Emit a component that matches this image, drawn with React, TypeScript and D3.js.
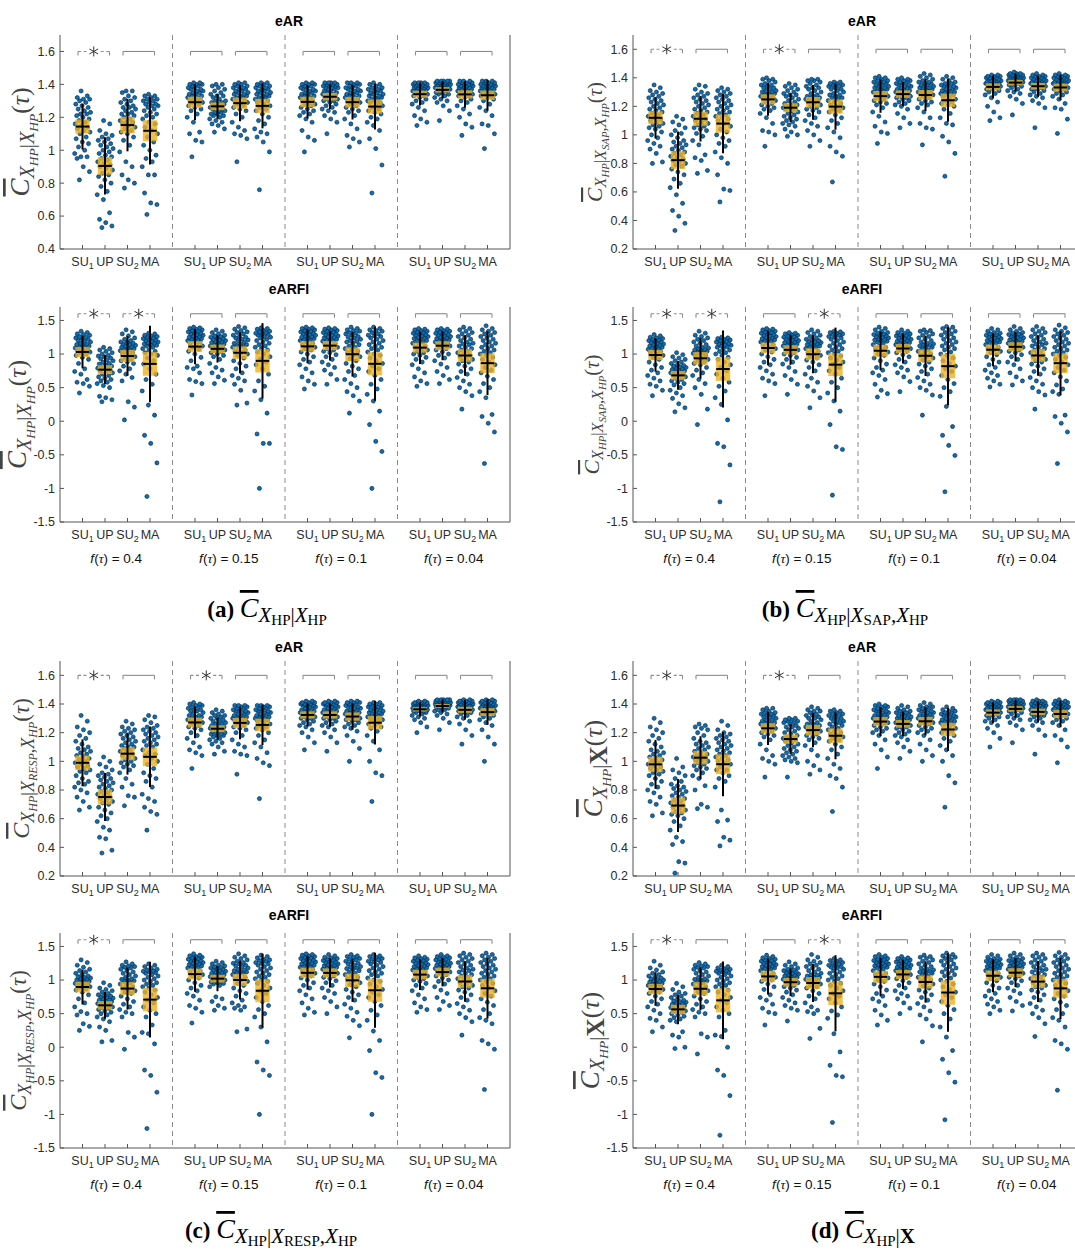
import * as d3 from 'd3'

// category / group labels
const CATEGORIES = ['SU_1', 'UP', 'SU_2', 'MA']
const F_TAU = ['0.4', '0.15', '0.1', '0.04']
const TICKS_EAR_A = [0.4, 0.6, 0.8, 1, 1.2, 1.4, 1.6]
const TICKS_EAR = [0.2, 0.4, 0.6, 0.8, 1, 1.2, 1.4, 1.6]
const TICKS_EARFI = [-1.5, -1, -0.5, 0, 0.5, 1, 1.5]

// swarm values, x100. order: f=0.4 [SU1, UP, SU2, MA], f=0.15 [...], f=0.1 [...], f=0.04 [...]
const A_EAR = [
  [82,87,90,95,96,96,98,100,102,104,105,107,108,110,111,112,113,114,115,116,117,118,119,120,121,122,122,123,124,125,126,127,128,129,130,131,131,132,133,136],
  [53,54,56,58,62,70,73,75,78,80,82,84,85,86,88,89,90,91,92,93,94,95,96,97,98,99,100,101,102,103,104,105,106,107,108,109,110,112,116,118],
  [77,80,82,85,90,93,99,103,106,108,110,111,112,113,114,115,116,117,117,118,119,120,121,122,122,123,124,125,126,126,127,128,129,130,131,132,133,135,136,136],
  [61,67,68,74,85,85,90,93,95,97,100,103,105,108,110,112,114,116,117,119,120,121,122,123,124,125,126,127,127,128,128,129,130,130,131,131,132,133,133,134],
  [96,105,106,110,111,117,120,122,124,125,126,127,128,129,129,130,130,131,131,132,132,133,133,134,134,135,135,136,136,137,137,138,138,139,139,140,140,140,141,141],
  [111,113,115,116,117,118,119,120,121,121,122,122,123,123,124,124,125,125,126,126,127,127,128,128,129,129,130,130,131,132,133,133,134,135,136,137,138,139,140,140],
  [93,107,109,110,112,114,117,120,122,124,125,126,127,128,129,129,130,130,131,131,132,132,133,133,134,134,135,135,136,136,137,137,138,138,139,139,140,140,141,141],
  [76,99,105,108,110,111,113,116,118,120,122,124,125,126,127,128,129,130,130,131,132,132,133,133,134,134,135,135,136,136,137,137,138,138,139,139,140,140,141,141],
  [99,106,108,112,117,119,121,122,123,124,125,126,127,128,128,129,130,130,131,132,132,133,133,134,134,135,135,136,136,137,137,138,138,139,139,140,140,140,141,141],
  [110,117,119,121,123,124,125,126,127,128,129,130,130,131,131,132,132,133,133,134,134,135,135,136,136,137,137,138,138,138,139,139,139,140,140,140,141,141,141,141],
  [102,105,107,109,113,116,119,121,123,124,125,126,127,128,129,130,130,131,131,132,132,133,133,134,134,135,135,136,136,137,137,138,138,139,139,140,140,141,141,141],
  [74,91,101,107,112,115,117,119,120,122,123,124,125,126,127,128,129,129,130,130,131,131,132,132,133,133,134,134,135,135,136,136,137,137,138,138,139,140,140,141],
  [115,117,119,121,124,126,128,129,130,131,132,133,133,134,134,135,135,135,136,136,136,137,137,137,138,138,138,138,139,139,139,139,140,140,140,140,141,141,141,141],
  [118,124,127,129,130,131,132,133,134,134,135,135,136,136,137,137,137,138,138,138,138,139,139,139,139,140,140,140,140,140,141,141,141,141,141,142,142,142,142,142],
  [109,114,116,120,122,125,127,129,130,131,132,133,133,134,134,135,135,136,136,136,137,137,137,138,138,138,139,139,139,139,140,140,140,140,141,141,141,142,142,142],
  [101,110,115,116,121,124,126,128,130,131,132,133,133,134,134,135,135,136,136,136,137,137,137,138,138,138,139,139,139,139,140,140,140,140,141,141,141,142,142,142],
]

const A_EARFI = [
  [42,52,56,58,62,70,74,78,86,92,95,98,100,102,103,105,106,107,108,109,110,111,112,113,114,115,116,118,119,120,122,123,124,125,126,128,129,130,132,134],
  [29,32,35,37,50,53,56,58,60,62,64,66,68,70,72,74,75,76,78,79,80,81,82,84,85,86,88,90,91,93,94,96,97,98,100,102,104,106,108,110],
  [2,21,29,60,65,70,75,78,82,86,88,90,92,94,96,98,100,102,103,105,106,107,108,109,110,111,112,113,114,115,116,117,118,120,122,124,127,130,133,136],
  [-112,-62,-33,-21,9,24,45,55,62,70,78,85,90,94,98,100,102,104,106,108,110,112,113,114,115,116,117,118,119,120,121,122,123,124,125,126,127,128,130,131],
  [39,56,59,62,72,78,80,82,90,95,100,104,107,110,112,114,116,118,119,120,121,122,123,124,125,126,127,128,129,130,131,132,133,134,135,136,137,138,139,140],
  [56,61,66,72,76,80,86,92,96,98,100,102,104,105,106,108,109,110,111,112,113,114,115,116,117,118,119,120,121,122,123,124,125,126,127,128,130,132,134,136],
  [24,27,46,55,60,64,68,72,78,82,86,90,94,98,100,102,104,106,108,110,112,113,114,115,116,118,120,121,122,124,125,126,128,130,132,133,135,137,139,141],
  [-100,-33,-33,-19,12,32,45,52,60,70,78,84,88,92,96,100,103,106,108,110,112,114,116,118,120,122,124,125,126,128,129,130,131,132,133,134,135,137,138,139],
  [48,55,60,66,72,78,84,88,92,96,100,103,106,108,110,112,114,116,118,120,121,122,123,124,125,126,127,128,129,130,131,132,133,134,135,136,137,138,139,140],
  [55,62,70,76,80,84,88,92,96,99,102,104,106,108,110,112,114,116,118,119,120,121,122,123,124,125,126,127,128,129,130,131,132,133,134,135,136,137,138,139],
  [12,30,38,44,50,56,62,68,74,78,82,86,90,93,96,99,102,104,106,108,110,112,114,116,118,119,120,122,124,125,126,128,130,131,132,134,135,136,138,140],
  [-100,-45,-30,-5,15,30,40,48,55,62,68,74,78,82,86,90,94,98,100,103,106,108,110,112,114,116,118,120,122,124,126,127,128,130,132,134,135,136,138,140],
  [52,56,60,66,72,78,84,88,92,95,98,100,102,104,106,108,110,112,114,116,118,119,120,122,123,124,125,126,127,128,129,130,131,132,133,134,135,136,137,138],
  [56,62,68,74,80,85,90,94,98,100,103,106,108,110,112,114,115,116,117,118,119,120,121,122,123,124,125,126,127,128,129,130,131,132,133,134,135,136,137,138],
  [18,38,44,50,55,60,65,70,74,78,82,85,88,90,92,94,96,98,100,102,104,106,108,110,112,114,115,116,118,120,122,124,126,128,130,132,134,136,138,140],
  [-63,-16,-3,7,10,35,44,50,56,62,67,72,76,80,84,88,92,95,98,100,102,104,106,108,110,112,114,116,118,120,122,124,126,128,130,132,134,136,138,142],
]

const B_EAR = [
  [80,81,87,90,92,94,96,98,100,102,104,105,106,107,108,109,110,111,112,113,114,115,116,117,118,119,120,121,122,123,124,125,126,127,128,129,130,131,133,135],
  [33,38,43,47,52,58,63,66,69,72,74,76,78,79,80,81,82,83,84,85,86,87,88,89,90,91,92,93,94,95,96,98,100,101,103,105,107,109,111,113],
  [73,75,82,84,86,93,96,99,101,103,104,105,106,107,108,109,110,111,112,113,114,115,116,117,118,119,120,121,122,123,124,125,126,127,128,129,130,132,134,135],
  [53,61,62,72,80,84,88,92,94,96,98,100,102,104,106,108,110,111,112,113,114,115,116,117,118,119,120,121,122,123,124,125,126,127,128,129,130,131,132,133],
  [92,100,102,103,108,112,115,117,118,119,120,121,122,123,124,125,126,126,127,127,128,128,129,129,130,130,131,131,132,133,133,134,135,135,136,137,138,139,139,140],
  [99,100,102,104,106,107,108,109,110,111,112,113,114,115,116,117,118,118,119,119,120,120,121,121,122,123,124,125,126,127,128,128,129,130,131,132,133,134,135,136],
  [92,96,100,103,106,108,110,112,114,116,117,118,119,120,121,122,123,124,124,125,125,126,126,127,127,128,129,130,131,132,133,133,134,135,136,137,138,138,139,139],
  [67,85,88,92,98,102,105,108,110,112,114,116,117,118,119,120,121,122,123,124,125,126,126,127,128,128,129,130,131,132,132,133,134,134,135,135,136,136,137,137],
  [94,101,102,106,109,113,116,119,121,122,123,124,125,126,127,128,129,129,130,130,131,131,132,132,133,133,134,134,135,135,136,136,137,137,138,138,139,140,140,141],
  [105,108,112,115,118,120,121,122,123,124,125,126,126,127,127,128,128,129,129,130,130,131,131,132,132,133,133,134,134,135,135,136,136,137,137,138,138,139,139,140],
  [93,104,105,108,112,116,119,121,122,123,124,125,126,127,128,128,129,129,130,130,131,131,132,132,133,133,134,134,135,135,136,136,137,137,138,139,140,141,142,143],
  [71,87,95,99,107,108,112,115,118,120,121,122,123,124,125,126,127,128,128,129,129,130,130,131,131,132,132,133,133,134,134,135,135,136,136,137,138,139,140,141],
  [110,112,116,120,123,126,128,129,130,131,132,132,133,133,134,134,135,135,135,136,136,136,137,137,137,138,138,138,139,139,139,140,140,140,140,141,141,141,142,142],
  [114,122,125,127,129,130,131,132,133,134,135,135,136,136,137,137,137,138,138,138,139,139,139,139,140,140,140,140,141,141,141,141,142,142,142,142,143,143,143,144],
  [105,119,122,124,126,127,128,129,130,131,132,132,133,133,134,134,135,135,135,136,136,136,137,137,137,138,138,138,139,139,139,140,140,140,141,141,141,142,142,143],
  [101,111,118,119,122,125,127,128,129,130,131,132,132,133,133,134,134,135,135,136,136,136,137,137,137,138,138,138,139,139,139,140,140,140,141,141,141,142,142,143],
]

const B_EARFI = [
  [38,46,52,55,60,64,68,72,76,80,84,88,92,95,98,100,102,104,106,107,108,109,110,111,112,113,114,115,116,117,118,119,120,121,122,123,124,125,127,129],
  [14,20,26,34,38,42,46,50,54,56,58,60,62,64,66,68,69,70,71,72,73,74,75,76,77,78,79,80,81,82,83,84,86,88,90,92,94,96,99,102],
  [-5,18,40,50,56,62,68,72,76,80,84,86,88,90,92,94,96,98,100,101,102,103,104,105,106,107,108,109,110,112,114,116,118,120,122,124,126,128,131,134],
  [-120,-65,-38,-33,2,25,35,45,52,58,64,70,75,80,84,88,92,95,98,100,102,104,106,108,110,111,112,113,114,115,116,117,118,119,120,121,122,123,124,125],
  [38,56,60,64,70,75,80,84,88,92,96,100,103,106,108,110,112,114,116,118,119,120,121,122,123,124,125,126,127,128,129,130,131,132,133,134,135,136,137,138],
  [40,55,62,68,74,80,85,88,92,95,98,100,102,104,106,108,109,110,111,112,113,114,115,116,117,118,119,120,121,122,123,124,125,126,127,128,129,130,131,132],
  [20,35,45,52,58,64,70,75,80,84,88,91,94,96,98,100,102,104,106,108,110,111,112,113,114,115,116,117,118,119,120,121,122,124,126,128,130,132,134,136],
  [-110,-42,-38,-5,15,30,42,50,58,64,70,75,80,85,88,91,94,97,100,102,104,106,108,110,112,114,116,118,120,122,124,125,126,128,129,130,131,132,133,134],
  [36,41,46,55,62,68,72,76,80,85,90,94,98,100,103,106,108,110,112,114,116,118,119,120,121,122,123,124,125,126,127,128,129,130,131,132,134,136,138,140],
  [44,59,66,72,76,80,84,88,92,96,99,102,104,106,108,110,111,112,113,114,115,116,117,118,119,120,121,122,123,124,125,126,127,128,129,130,131,132,134,136],
  [9,39,46,50,55,60,65,70,74,78,82,85,88,91,94,96,98,100,102,104,106,108,110,111,112,113,114,115,116,118,120,122,124,126,128,130,132,134,135,136],
  [-105,-51,-36,-21,-8,22,37,44,50,56,62,68,74,78,82,86,90,94,98,100,103,106,108,110,112,114,116,118,120,122,124,126,128,130,132,134,136,138,140,141],
  [51,55,60,64,68,72,76,80,84,88,92,96,99,102,104,106,108,110,112,114,116,117,118,119,120,121,122,123,124,125,126,127,128,129,130,131,132,134,136,138],
  [54,60,66,72,78,84,88,92,96,99,102,104,106,108,110,112,113,114,115,116,117,118,119,120,121,122,123,124,125,126,127,128,129,130,131,132,134,136,138,141],
  [18,39,44,50,55,60,65,70,74,78,82,85,88,90,92,94,96,98,100,102,104,106,108,110,112,114,115,116,118,120,122,124,126,128,130,132,134,136,138,141],
  [-63,-16,-3,7,9,40,44,48,54,60,66,72,76,80,84,88,92,95,98,100,102,104,106,108,110,112,114,116,118,120,122,124,126,128,130,132,134,136,139,143],
]

const C_EAR = [
  [66,68,72,75,78,80,82,84,85,86,88,90,92,93,94,95,96,97,98,99,100,101,102,103,104,105,106,107,108,109,110,112,114,116,118,120,122,124,128,132],
  [36,38,46,47,52,54,58,60,62,64,66,68,70,71,72,73,74,75,76,77,78,79,80,81,82,83,84,85,86,87,88,89,90,91,92,94,96,98,100,103],
  [69,75,76,82,84,88,92,94,96,97,98,99,100,101,102,103,104,105,106,107,108,109,110,110,111,112,113,114,115,116,117,118,119,120,121,122,123,124,126,128],
  [52,63,65,68,72,74,77,82,86,88,90,92,95,98,100,102,104,105,106,108,110,111,112,113,114,115,116,117,118,119,120,121,122,123,124,125,127,129,131,132],
  [95,104,106,108,110,113,116,118,120,122,123,124,125,126,127,127,128,128,129,129,130,130,131,131,132,132,133,134,135,135,136,136,137,138,138,139,139,140,140,141],
  [105,107,110,112,113,114,115,116,117,118,118,119,119,120,120,121,121,122,122,123,123,124,124,125,125,126,126,127,128,128,129,130,130,131,132,132,133,134,135,136],
  [91,104,105,107,110,112,115,118,120,122,123,124,125,126,127,128,128,129,129,130,130,131,131,132,132,133,133,134,134,135,135,136,136,137,137,138,138,139,139,139],
  [74,97,99,102,106,110,113,115,118,120,122,123,124,125,126,127,128,129,129,130,130,131,131,132,132,133,133,134,134,135,135,136,136,137,137,138,138,139,139,139],
  [108,113,117,120,122,124,125,126,127,128,129,130,130,131,131,132,132,133,133,134,134,135,135,136,136,137,137,138,138,139,139,139,140,140,140,141,141,141,142,142],
  [107,113,117,120,122,124,125,126,127,128,129,130,130,131,131,132,132,133,133,134,134,135,135,136,136,137,137,138,138,139,139,139,140,140,140,141,141,141,142,142],
  [100,109,114,118,121,123,124,125,126,127,128,129,129,130,130,131,131,132,132,133,133,134,134,135,135,136,136,137,137,138,138,139,139,140,140,141,141,141,142,142],
  [72,90,92,100,108,114,118,121,123,124,125,126,127,128,129,129,130,130,131,131,132,132,133,133,134,134,135,135,136,136,137,137,138,138,139,139,140,140,141,141],
  [120,124,127,129,130,131,132,133,134,134,135,135,135,136,136,136,137,137,137,137,138,138,138,138,139,139,139,139,140,140,140,140,140,141,141,141,141,141,142,142],
  [122,127,130,132,133,134,135,136,136,137,137,138,138,138,139,139,139,139,140,140,140,140,140,141,141,141,141,141,141,142,142,142,142,142,142,143,143,143,143,143],
  [112,118,122,126,128,130,131,132,133,134,134,135,135,136,136,136,137,137,137,138,138,138,139,139,139,139,140,140,140,140,141,141,141,141,142,142,142,142,143,143],
  [100,112,117,122,125,127,129,130,131,132,133,133,134,134,135,135,136,136,136,137,137,137,138,138,138,139,139,139,140,140,140,140,141,141,141,142,142,142,143,143],
]

const C_EARFI = [
  [25,31,35,48,50,53,60,66,72,78,82,85,87,89,90,91,92,93,94,95,96,97,98,99,100,101,102,103,104,105,106,108,110,112,114,116,119,122,126,130],
  [8,10,25,30,38,42,45,48,50,52,54,56,58,59,60,61,62,63,64,65,66,67,68,69,70,71,72,73,74,75,76,77,78,80,82,84,86,88,92,96],
  [-3,15,22,45,50,52,56,60,64,68,72,76,80,82,84,86,88,90,92,94,96,98,99,100,101,102,104,106,108,110,112,114,116,118,119,120,121,122,124,127],
  [-121,-67,-42,-34,5,20,22,33,45,50,55,60,66,70,74,78,82,85,88,90,92,94,96,98,100,102,104,106,108,110,111,112,113,114,115,116,118,120,122,124],
  [36,52,58,62,70,76,80,84,88,92,96,100,103,106,108,110,112,114,116,118,119,120,121,122,123,124,125,126,127,128,129,130,131,132,133,134,135,136,137,139],
  [55,58,62,68,72,75,90,92,94,95,96,97,98,99,100,101,102,103,104,105,106,107,108,109,110,111,112,113,114,115,116,117,118,119,120,121,122,124,126,128],
  [23,27,55,58,60,62,66,70,76,80,84,88,92,95,98,100,102,104,106,108,110,111,112,113,114,115,116,118,120,121,122,124,125,126,128,130,132,134,136,139],
  [-100,-42,-34,-22,8,30,45,50,56,62,68,74,80,84,88,92,95,98,100,102,104,106,108,110,112,114,116,118,120,122,124,125,126,128,129,130,131,133,135,137],
  [48,52,58,66,72,78,84,88,92,96,100,103,106,108,110,112,114,116,118,119,120,121,122,123,124,125,126,127,128,129,130,131,132,133,134,135,136,137,138,139],
  [50,60,68,74,80,84,88,92,96,99,102,104,106,108,110,112,113,114,115,116,117,118,119,120,121,122,123,124,125,126,127,128,129,130,131,132,133,134,136,138],
  [14,32,40,46,52,58,64,70,74,78,82,86,90,93,96,99,102,104,106,108,110,112,114,116,117,118,119,120,122,124,125,126,128,130,131,132,134,135,136,138],
  [-100,-45,-38,-5,10,24,40,48,55,62,68,74,78,82,86,90,94,98,100,103,106,108,110,112,114,116,118,120,122,124,126,127,128,130,131,132,134,135,136,138],
  [52,56,60,66,72,78,84,88,92,95,98,100,102,104,106,108,110,112,114,115,116,117,118,119,120,121,122,123,124,125,126,127,128,129,130,131,132,133,134,136],
  [56,62,68,74,80,85,90,94,98,100,103,106,108,110,112,113,114,115,116,117,118,119,120,121,122,123,124,125,126,127,128,129,130,131,132,133,134,135,136,138],
  [18,38,44,50,55,60,65,70,74,78,82,85,88,90,92,94,96,98,100,102,104,106,108,110,112,114,115,116,118,120,122,124,126,128,130,132,134,136,138,140],
  [-63,-3,5,10,35,40,44,50,56,62,67,72,76,80,84,88,92,95,98,100,102,104,106,108,110,112,114,116,118,120,122,124,126,128,130,132,134,136,138,140],
]

const D_EAR = [
  [62,64,70,72,75,78,80,82,84,86,88,90,91,92,93,94,95,96,97,98,99,100,101,102,103,104,105,106,107,108,110,112,114,116,118,120,122,124,127,130],
  [22,29,30,42,44,47,52,55,58,60,62,63,64,65,66,67,68,69,70,71,72,73,74,75,76,77,78,79,80,81,82,83,84,86,88,90,92,94,96,102],
  [67,68,70,80,83,88,90,92,94,95,96,97,98,99,100,101,101,102,102,103,103,104,105,106,107,108,109,110,111,112,113,114,116,118,120,122,123,124,125,126],
  [41,45,47,58,59,66,82,86,88,90,92,94,94,96,98,99,100,101,102,103,104,105,106,107,108,109,110,111,112,113,114,115,116,117,118,119,120,122,125,128],
  [89,98,100,102,104,108,112,115,117,118,119,120,121,122,123,124,124,125,125,126,126,127,127,128,128,129,129,130,131,131,132,132,133,133,134,134,135,136,137,137],
  [89,99,100,101,102,103,104,105,106,107,108,109,110,111,112,113,114,115,115,116,116,117,118,119,120,121,122,123,124,124,125,126,127,127,128,128,129,129,130,130],
  [91,94,97,100,104,108,111,113,115,116,117,118,119,120,121,122,122,123,123,124,124,125,125,126,126,127,128,129,130,130,131,132,132,133,134,135,135,136,137,138],
  [65,82,88,90,95,98,102,105,108,110,112,114,115,116,117,118,119,120,121,122,123,124,125,126,126,127,128,128,129,130,130,131,132,132,133,133,134,135,135,136],
  [95,103,108,112,115,118,120,121,122,123,124,125,126,127,127,128,128,129,129,130,130,131,131,132,132,133,133,134,134,135,135,136,136,137,137,138,138,139,139,140],
  [102,107,110,113,115,117,118,119,120,121,122,123,124,124,125,125,126,126,127,127,128,128,129,129,130,130,131,131,132,132,133,133,134,134,135,135,136,137,138,139],
  [100,104,108,112,115,118,120,121,122,123,124,125,126,127,127,128,128,129,129,130,130,131,131,132,132,133,133,134,134,135,135,136,136,137,137,138,138,139,140,141],
  [68,85,90,100,104,108,111,114,116,118,119,120,121,122,123,124,125,126,126,127,127,128,128,129,129,130,130,131,131,132,132,133,133,134,134,135,135,136,137,138],
  [110,116,120,123,125,127,128,129,130,131,132,132,133,133,134,134,135,135,135,136,136,136,137,137,137,138,138,138,139,139,139,140,140,140,140,141,141,141,142,142],
  [113,122,125,127,129,130,131,132,133,134,135,135,136,136,137,137,137,138,138,138,139,139,139,139,140,140,140,140,141,141,141,141,142,142,142,142,143,143,143,143],
  [105,118,122,125,127,128,129,130,131,132,132,133,133,134,134,135,135,135,136,136,136,137,137,137,138,138,138,139,139,139,140,140,140,141,141,141,142,142,142,143],
  [99,110,115,118,122,125,127,128,129,130,131,132,132,133,133,134,134,135,135,136,136,136,137,137,137,138,138,138,139,139,139,140,140,140,141,141,141,142,142,143],
]

const D_EARFI = [
  [23,30,40,43,50,55,60,64,68,72,76,80,82,84,86,88,89,90,91,92,93,94,95,96,97,98,99,100,101,102,103,104,106,108,110,112,115,118,122,128],
  [-2,0,15,18,23,38,40,42,44,46,48,50,52,53,54,55,56,57,58,59,60,61,62,63,64,65,66,67,68,69,70,72,74,76,78,80,82,86,90,95],
  [-10,15,20,45,50,52,56,60,64,68,72,76,80,82,84,86,88,90,92,94,96,98,99,100,101,102,104,106,108,110,112,114,116,118,119,120,121,122,124,126],
  [-131,-72,-42,-34,0,16,18,25,45,50,55,60,66,70,74,78,82,85,88,90,92,94,96,98,100,102,104,106,108,110,111,112,113,114,115,116,117,118,120,122],
  [33,50,52,58,64,70,74,78,86,90,94,98,100,102,104,106,108,110,112,114,116,117,118,119,120,121,122,123,124,125,126,127,128,129,130,131,132,133,135,137],
  [39,55,58,62,66,70,74,78,82,85,88,90,92,94,96,97,98,99,100,101,102,103,104,105,106,107,108,109,110,111,112,113,114,115,116,118,120,122,124,127],
  [13,28,50,53,55,60,66,72,76,80,84,88,90,92,94,96,98,99,100,101,102,103,104,105,106,107,108,110,112,114,116,118,120,122,124,126,128,130,134,138],
  [-112,-44,-42,-27,-7,20,43,48,54,60,66,72,76,80,84,88,92,95,98,100,102,104,106,108,110,112,114,116,118,119,120,121,122,124,125,126,128,129,130,132],
  [33,40,48,55,62,68,72,76,80,85,90,94,98,100,103,106,108,110,112,114,116,118,119,120,121,122,123,124,125,126,127,128,129,130,131,132,134,135,136,138],
  [50,58,66,72,76,80,84,88,92,96,99,102,104,106,108,110,111,112,113,114,115,116,117,118,119,120,121,122,123,124,125,126,127,128,129,130,131,132,133,135],
  [8,32,42,48,54,60,65,70,74,78,82,85,88,91,94,96,98,100,102,104,106,108,110,111,112,113,114,115,116,118,120,122,124,126,128,130,132,134,135,137],
  [-108,-52,-38,-18,-5,15,30,42,50,56,62,68,74,78,82,86,90,94,98,100,103,106,108,110,112,114,116,118,120,122,124,126,128,130,132,134,135,136,138,140],
  [50,55,60,64,68,72,76,80,84,88,92,96,99,102,104,106,108,110,112,114,116,117,118,119,120,121,122,123,124,125,126,127,128,129,130,131,132,134,136,138],
  [54,62,68,74,80,84,88,92,96,99,102,104,106,108,110,112,113,114,115,116,117,118,119,120,121,122,123,124,125,126,127,128,129,130,131,132,134,136,138,140],
  [16,35,44,50,55,60,65,70,74,78,82,85,88,90,92,94,96,98,100,102,104,106,108,110,112,114,115,116,118,120,122,124,126,128,130,132,134,136,138,140],
  [-64,-3,5,10,30,40,44,50,56,62,67,72,76,80,84,88,92,95,98,100,102,104,106,108,110,112,114,116,118,120,122,124,126,128,130,132,134,136,138,141],
]

// significance stars: per group [SU1-UP, SU2-MA]
const SIG_A_EAR = [1, 0, 0, 0, 0, 0, 0, 0]
const SIG_A_EARFI = [1, 1, 0, 0, 0, 0, 0, 0]
const SIG_B_EAR = [1, 0, 1, 0, 0, 0, 0, 0]
const SIG_B_EARFI = [1, 1, 0, 1, 0, 0, 0, 0]
const SIG_C_EAR = [1, 0, 1, 0, 0, 0, 0, 0]
const SIG_C_EARFI = [1, 0, 0, 0, 0, 0, 0, 0]
const SIG_D_EAR = [1, 0, 1, 0, 0, 0, 0, 0]
const SIG_D_EARFI = [1, 0, 0, 1, 0, 0, 0, 0]

const SANS = "'Liberation Sans', Arial, sans-serif"
const SERIF = "'Liberation Serif', 'Times New Roman', serif"
const DOT = '#0a6fb6'
const DOT_EDGE = '#0c2235'
const ORANGE = '#EDB120'
const AXIS = '#555555'
const TEXT = '#2b2b2b'

type Part = { t: string; size: number; it?: boolean; b?: boolean; over?: boolean; off?: number }

function Rich({ parts }: { parts: Part[] }) {
  let cur = 0
  return (
    <>
      {parts.map((p, i) => {
        const off = p.off ?? 0
        const dy = off - cur
        cur = off
        return (
          <tspan key={i} dy={dy} fontSize={p.size} fontStyle={p.it ? 'italic' : 'normal'}
            fontWeight={p.b ? 'bold' : 'normal'} textDecoration={p.over ? 'overline' : undefined}>
            {p.t}
          </tspan>
        )
      })}
    </>
  )
}

function CatLabel({ label, x, y }: { label: string; x: number; y: number }) {
  const [base, sub] = label.split('_')
  return (
    <text x={x} y={y} textAnchor="middle" fontFamily={SANS} fontSize={12.5} fill={TEXT}>
      {base}
      {sub && <tspan fontSize={9} dy={3}>{sub}</tspan>}
    </text>
  )
}

type PanelProps = {
  left: number; top: number; bottom: number
  domain: [number, number]; ticks: number[]
  data: number[][]; sig: number[]; title: string; titleGap: number; showF: boolean
}

function Panel({ left, top, bottom, domain, ticks, data, sig, title, titleGap, showF }: PanelProps) {
  const x = d3.scaleLinear().domain([0, 20]).range([left, left + 450])
  const y = d3.scaleLinear().domain(domain).range([bottom, top])

  const swarms = data.map((raw, k) => {
    const g = Math.floor(k / 4)
    const c = k % 4
    const v = raw.map(d => d / 100)
    const mean = d3.mean(v) as number
    const sd = d3.deviation(v) as number
    const ci = (1.96 * sd) / Math.sqrt(v.length)
    return { k, cx: g * 5 + c + 1, v, mean, sd, ci }
  })

  const yb = y(1.6)
  const brackets: { x1: number; x2: number; star: boolean }[] = []
  for (let g = 0; g < 4; g++) {
    for (let p = 0; p < 2; p++) {
      brackets.push({ x1: x(g * 5 + p * 2 + 0.8), x2: x(g * 5 + p * 2 + 2.2), star: !!sig[g * 2 + p] })
    }
  }

  return (
    <g>
      {[5, 10, 15].map(v => (
        <line key={v} x1={x(v)} x2={x(v)} y1={top} y2={bottom} stroke="#8a8a8a" strokeDasharray="5,4" />
      ))}
      <line x1={left} x2={left} y1={top} y2={bottom} stroke={AXIS} />
      <line x1={left} x2={x(20)} y1={bottom} y2={bottom} stroke={AXIS} />
      <line x1={x(20)} x2={x(20)} y1={top} y2={bottom} stroke={AXIS} />
      {ticks.map(t => (
        <g key={t}>
          <line x1={left} x2={left + 4} y1={y(t)} y2={y(t)} stroke={AXIS} />
          <text x={left - 5} y={y(t)} dy="0.35em" textAnchor="end" fontFamily={SANS} fontSize={12.5} fill={TEXT}>
            {String(t)}
          </text>
        </g>
      ))}
      {swarms.map(s => (
        <g key={'t' + s.k}>
          <line x1={x(s.cx)} x2={x(s.cx)} y1={bottom} y2={bottom - 4} stroke={AXIS} />
          <CatLabel label={CATEGORIES[s.k % 4]} x={x(s.cx)} y={bottom + 17} />
        </g>
      ))}
      {showF && F_TAU.map((f, g) => (
        <text key={f} x={x(g * 5 + 2.5)} y={bottom + 41} textAnchor="middle" fontFamily={SANS} fontSize={13.5} fill="#111">
          <tspan fontStyle="italic">f</tspan>(<tspan fontStyle="italic" fontFamily={SERIF}>τ</tspan>) = {f}
        </text>
      ))}
      {swarms.map(s => (
        <g key={'d' + s.k}>
          {s.v.map((val, i) => {
            const off = ((i * 0.6180339887 + 0.31) % 1 - 0.5) * 0.72
            return <circle key={i} cx={x(s.cx + off)} cy={y(val)} r={2.05} fill={DOT} stroke={DOT_EDGE} strokeWidth={0.6} />
          })}
        </g>
      ))}
      {swarms.map(s => (
        <rect key={'b' + s.k} x={x(s.cx - 0.32)} width={x(s.cx + 0.32) - x(s.cx - 0.32)}
          y={y(s.mean + s.ci)} height={y(s.mean - s.ci) - y(s.mean + s.ci)} fill={ORANGE} fillOpacity={0.8} />
      ))}
      {swarms.map(s => (
        <g key={'m' + s.k} stroke="#000" strokeWidth={2}>
          <line x1={x(s.cx)} x2={x(s.cx)} y1={y(s.mean - s.sd)} y2={y(s.mean + s.sd)} />
          <line x1={x(s.cx - 0.3)} x2={x(s.cx + 0.3)} y1={y(s.mean)} y2={y(s.mean)} />
        </g>
      ))}
      {brackets.map((b, i) => {
        const cx = (b.x1 + b.x2) / 2
        return (
          <g key={'br' + i} stroke="#8c8c8c" strokeWidth={1.1} fill="none">
            <line x1={b.x1} x2={b.x1} y1={yb} y2={yb + 4} />
            <line x1={b.x2} x2={b.x2} y1={yb} y2={yb + 4} />
            {b.star ? (
              <>
                <line x1={b.x1} x2={cx - 7} y1={yb} y2={yb} strokeDasharray="3,2.5" />
                <line x1={cx + 7} x2={b.x2} y1={yb} y2={yb} strokeDasharray="3,2.5" />
                {[90, 30, 150].map(a => {
                  const r = (a * Math.PI) / 180
                  return <line key={a} x1={cx - 5 * Math.cos(r)} x2={cx + 5 * Math.cos(r)}
                    y1={yb - 5 * Math.sin(r)} y2={yb + 5 * Math.sin(r)} stroke="#333" strokeWidth={1} />
                })}
              </>
            ) : (
              <line x1={b.x1} x2={b.x2} y1={yb} y2={yb} />
            )}
          </g>
        )
      })}
      <text x={x(10) + 4} y={top - titleGap} textAnchor="middle" fontFamily={SANS} fontSize={14} fontWeight="bold" fill="#000">
        {title}
      </text>
    </g>
  )
}

function YLabel({ x, y, parts }: { x: number; y: number; parts: Part[] }) {
  return (
    <text transform={`translate(${x},${y}) rotate(-90)`} textAnchor="middle" fontFamily={SERIF} fill="#444">
      <Rich parts={parts} />
    </text>
  )
}

function Caption({ x, y, parts }: { x: number; y: number; parts: Part[] }) {
  return (
    <text x={x} y={y} textAnchor="middle" fontFamily={SERIF} fill="#000">
      <Rich parts={parts} />
    </text>
  )
}

const yl = (mid: Part[], s: number): Part[] => [
  { t: 'C', size: 20 * s, it: true, over: true },
  ...mid.map(p => ({ ...p, size: p.size * s, off: (p.off ?? 0) * s })),
  { t: '(', size: 19 * s },
  { t: 'τ', size: 19 * s, it: true },
  { t: ')', size: 19 * s },
]

const XHP: Part[] = [
  { t: 'X', size: 15, it: true, off: 4 },
  { t: 'HP', size: 10, it: true, off: 6.5 },
]
const BAR: Part = { t: '|', size: 15, off: 4 }
const YL_A = yl([...XHP, BAR, ...XHP], 1.35)
const YL_B = yl([...XHP, BAR, { t: 'X', size: 15, it: true, off: 4 },
  { t: 'SAP', size: 10, it: true, off: 6.5 }, { t: ',', size: 15, off: 4 }, ...XHP], 1.08)
const YL_C = yl([...XHP, BAR, { t: 'X', size: 15, it: true, off: 4 },
  { t: 'RESP', size: 10, it: true, off: 6.5 }, { t: ',', size: 15, off: 4 }, ...XHP], 1.2)
const YL_D = yl([...XHP, BAR, { t: 'X', size: 19, b: true, off: 4 }], 1.35)

const cap = (letter: string, sub: Part[]): Part[] => [
  { t: `(${letter}) `, size: 23, b: true },
  { t: 'C', size: 28, it: true, over: true },
  ...sub,
]
const CXHP: Part[] = [
  { t: 'X', size: 21, it: true, off: 5 },
  { t: 'HP', size: 15, off: 8 },
]
const CBAR: Part = { t: '|', size: 21, off: 5 }
const CAP_A = cap('a', [...CXHP, CBAR, ...CXHP])
const CAP_B = cap('b', [...CXHP, CBAR, { t: 'X', size: 21, it: true, off: 5 },
  { t: 'SAP', size: 15, off: 8 }, { t: ',', size: 21, off: 5 }, ...CXHP])
const CAP_C = cap('c', [...CXHP, CBAR, { t: 'X', size: 21, it: true, off: 5 },
  { t: 'RESP', size: 15, off: 8 }, { t: ',', size: 21, off: 5 }, ...CXHP])
const CAP_D = cap('d', [...CXHP, CBAR, { t: 'X', size: 21, b: true, off: 5 }])

const SUBFIGS = [
  { left: 60, rowTop: [35, 307], rowBottom: [249, 522], earDomain: [0.4, 1.7] as [number, number], earTicks: TICKS_EAR_A,
    ear: A_EAR, earfi: A_EARFI, sigEar: SIG_A_EAR, sigEarfi: SIG_A_EARFI, ylabel: YL_A, caption: CAP_A, capX: 267, capY: 617 },
  { left: 633, rowTop: [35, 307], rowBottom: [249, 522], earDomain: [0.2, 1.7] as [number, number], earTicks: TICKS_EAR,
    ear: B_EAR, earfi: B_EARFI, sigEar: SIG_B_EAR, sigEarfi: SIG_B_EARFI, ylabel: YL_B, caption: CAP_B, capX: 845, capY: 617 },
  { left: 60, rowTop: [661, 933], rowBottom: [876, 1148], earDomain: [0.2, 1.7] as [number, number], earTicks: TICKS_EAR,
    ear: C_EAR, earfi: C_EARFI, sigEar: SIG_C_EAR, sigEarfi: SIG_C_EARFI, ylabel: YL_C, caption: CAP_C, capX: 271, capY: 1238 },
  { left: 633, rowTop: [661, 933], rowBottom: [876, 1148], earDomain: [0.2, 1.7] as [number, number], earTicks: TICKS_EAR,
    ear: D_EAR, earfi: D_EARFI, sigEar: SIG_D_EAR, sigEarfi: SIG_D_EARFI, ylabel: YL_D, caption: CAP_D, capX: 863, capY: 1238 },
]

export default function App() {
  return (
    <svg width={1075} height={1256} style={{ position: 'absolute', left: 0, top: 0, background: '#fff' }}>
      <rect width={1075} height={1256} fill="#fff" />
      {SUBFIGS.map((s, i) => (
        <g key={i}>
          <Panel left={s.left} top={s.rowTop[0]} bottom={s.rowBottom[0]} domain={s.earDomain} ticks={s.earTicks}
            data={s.ear} sig={s.sigEar} title="eAR" titleGap={9} showF={false} />
          <Panel left={s.left} top={s.rowTop[1]} bottom={s.rowBottom[1]} domain={[-1.5, 1.7]} ticks={TICKS_EARFI}
            data={s.earfi} sig={s.sigEarfi} title="eARFI" titleGap={13} showF={true} />
          <YLabel x={s.left - 31} y={(s.rowTop[0] + s.rowBottom[0]) / 2} parts={s.ylabel} />
          <YLabel x={s.left - 34} y={(s.rowTop[1] + s.rowBottom[1]) / 2} parts={s.ylabel} />
          <Caption x={s.capX} y={s.capY} parts={s.caption} />
        </g>
      ))}
    </svg>
  )
}
